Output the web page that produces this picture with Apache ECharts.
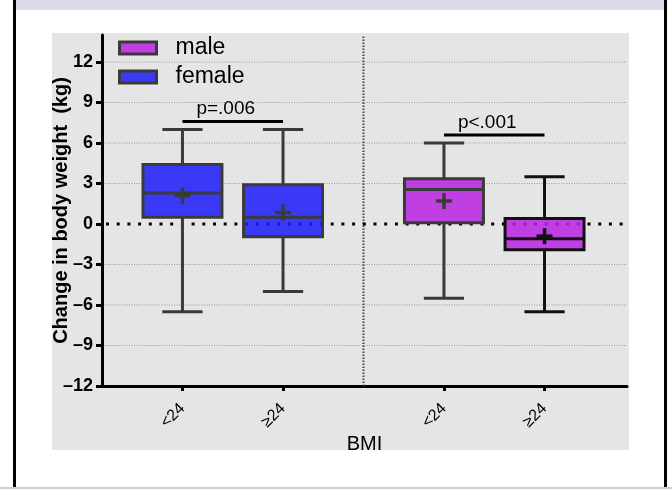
<!DOCTYPE html>
<html><head><meta charset="utf-8">
<script src="https://cdn.jsdelivr.net/npm/echarts@6/dist/echarts.min.js"></script>
<style>
html,body{margin:0;padding:0;background:#fff;}
#wrap{position:relative;width:672px;height:489px;overflow:hidden;}
.deco{position:absolute;}
#chart{position:absolute;left:0;top:0;width:672px;height:489px;}
</style></head><body>
<div id="wrap">
<div class="deco" style="left:15px;top:0;width:650px;height:10px;background:#dcdae6"></div>
<div class="deco" style="left:13px;top:0;width:3px;height:489px;background:#000"></div>
<div class="deco" style="left:664px;top:0;width:3px;height:489px;background:#000"></div>
<div class="deco" style="left:0;top:487px;width:672px;height:2px;background:#cfcfcf"></div>
<div class="deco" style="left:52px;top:33px;width:577px;height:417px;background:#e5e5e5"></div>
<div id="chart"></div>
</div>
<script>
// ---- data ----
const categories = ['<24', '\u226524', '<24', '\u226524'];
const xSlots = [0.8, 1.8, 3.4, 4.4];          // slots of the categories on the x scale
const groupDivider = [2.6];
// [slot, min, Q1, median, Q3, max, mean]
const femaleBoxes = [
  [0.8, -6.5, 0.5, 2.3, 4.4, 7.0, 2.1],
  [1.8, -5.0, -0.95, 0.5, 2.9, 7.0, 0.85]
];
const maleBoxes = [
  [3.4, -5.5, 0.1, 2.55, 3.35, 6.0, 1.7],
  [4.4, -6.5, -1.9, -1.1, 0.4, 3.5, -0.9]
];
const yTicks = [-12, -9, -6, -3, 0, 3, 6, 9, 12];
const gridValues = [12, 9, 6, 3, -3, -6, -9];
const zeroLine = [0];
const brackets = [[0.8, 1.8, 7.6], [3.4, 4.4, 6.6]];
const pLabels = ['p=.006', 'p<.001'];

const FONT = 'Liberation Sans, Arial, sans-serif';
const X_MIN = 0, X_MAX = 5.22, Y_MIN = -12, Y_MAX = 14;
const BOX_W = 0.785, CAP_W = 0.4;
const STROKE = '#3a3a3a';

function boxRender(fill, strokes) {
  return function (params, api) {
    const x = api.value(0);
    const lo = api.coord([x, api.value(1)]);
    const q1 = api.coord([x, api.value(2)]);
    const md = api.coord([x, api.value(3)]);
    const q3 = api.coord([x, api.value(4)]);
    const hi = api.coord([x, api.value(5)]);
    const mn = api.coord([x, api.value(6)]);
    const bw = api.size([BOX_W, 0])[0];
    const cw = api.size([CAP_W, 0])[0];
    const cx = lo[0];
    const sc = strokes[params.dataIndex] || STROKE;
    const ls = {stroke: sc, lineWidth: 3};
    return {
      type: 'group',
      children: [
        {type: 'line', shape: {x1: cx, y1: hi[1], x2: cx, y2: q3[1]}, style: ls},
        {type: 'line', shape: {x1: cx, y1: q1[1], x2: cx, y2: lo[1]}, style: ls},
        {type: 'line', shape: {x1: cx - cw / 2, y1: hi[1], x2: cx + cw / 2, y2: hi[1]}, style: ls},
        {type: 'line', shape: {x1: cx - cw / 2, y1: lo[1], x2: cx + cw / 2, y2: lo[1]}, style: ls},
        {type: 'rect', shape: {x: cx - bw / 2, y: q3[1], width: bw, height: q1[1] - q3[1]},
          style: {fill: fill, stroke: sc, lineWidth: 3, opacity: 1}},
        {type: 'line', shape: {x1: cx - bw / 2, y1: md[1], x2: cx + bw / 2, y2: md[1]}, style: ls},
        {type: 'line', shape: {x1: cx - 8, y1: mn[1], x2: cx + 8, y2: mn[1]}, style: {stroke: sc, lineWidth: 3.5}},
        {type: 'line', shape: {x1: cx, y1: mn[1] - 8, x2: cx, y2: mn[1] + 8}, style: {stroke: sc, lineWidth: 3.5}}
      ]
    };
  };
}

const chart = echarts.init(document.getElementById('chart'), null, {renderer: 'canvas'});
chart.setOption({
  backgroundColor: 'transparent',
  animation: false,
  grid: {left: 102, right: 45, top: 35, bottom: 103},
  legend: {
    data: ['male', 'female'], orient: 'vertical', left: 118, top: 36, padding: 0,
    itemWidth: 37, itemHeight: 12, itemGap: 5, icon: 'rect',
    itemStyle: {borderColor: STROKE, borderWidth: 3},
    textStyle: {fontSize: 23, lineHeight: 24, color: '#000', fontFamily: FONT, padding: [0, 0, 0, 14]}
  },
  xAxis: {
    type: 'value', min: X_MIN, max: X_MAX,
    name: 'BMI', nameLocation: 'middle', nameGap: 48, nameMoveOverlap: false,
    nameTextStyle: {fontSize: 20, color: '#000', fontFamily: FONT},
    axisLine: {show: true, onZero: false, lineStyle: {color: '#000', width: 3}},
    axisTick: {show: true, customValues: xSlots, length: 5, lineStyle: {color: '#000', width: 3}},
    axisLabel: {
      customValues: xSlots, rotate: 45, margin: 20, fontSize: 16, color: '#000', fontFamily: FONT,
      formatter: function (v) { const i = xSlots.indexOf(v); return i >= 0 ? categories[i] : ''; }
    },
    splitLine: {show: false}
  },
  yAxis: {
    type: 'value', min: Y_MIN, max: Y_MAX,
    name: 'Change in body weight  (kg)', nameLocation: 'middle', nameGap: 31, nameMoveOverlap: false,
    nameTextStyle: {fontSize: 20, fontWeight: 'bold', color: '#000', fontFamily: FONT},
    axisLine: {show: true, onZero: false, lineStyle: {color: '#000', width: 3}},
    axisTick: {show: true, customValues: yTicks, length: 6, lineStyle: {color: '#000', width: 3}},
    axisLabel: {
      customValues: yTicks, margin: 9, fontSize: 18, fontWeight: 'bold', color: '#000', fontFamily: FONT,
      formatter: function (v) { return v < 0 ? '\u2013' + Math.abs(v) : String(v); }
    },
    splitLine: {show: false}
  },
  series: [
    {
      type: 'custom', name: 'grid', z: 1, silent: true,
      data: gridValues.map(v => [X_MIN, v]),
      renderItem: function (params, api) {
        const a = api.coord([X_MIN, api.value(1)]);
        const b = api.coord([X_MAX, api.value(1)]);
        return {type: 'line', shape: {x1: a[0] + 2, y1: a[1], x2: b[0], y2: b[1]},
          style: {stroke: '#9a9a9a', lineWidth: 1, lineDash: [1, 1.5]}};
      }
    },
    {
      type: 'custom', name: 'divider', z: 1, silent: true,
      data: groupDivider.map(v => [v, Y_MIN]),
      renderItem: function (params, api) {
        const a = api.coord([api.value(0), Y_MIN]);
        const b = api.coord([api.value(0), Y_MAX]);
        return {type: 'line', shape: {x1: a[0], y1: a[1], x2: b[0], y2: b[1]},
          style: {stroke: '#444', lineWidth: 2, lineDash: [1.5, 1.5]}};
      }
    },
    {
      type: 'custom', name: 'zero', z: 2, silent: true,
      data: zeroLine.map(v => [X_MIN, v]),
      renderItem: function (params, api) {
        const a = api.coord([X_MIN, api.value(1)]);
        const b = api.coord([X_MAX, api.value(1)]);
        return {type: 'line', shape: {x1: a[0] + 4, y1: a[1], x2: b[0], y2: b[1]},
          style: {stroke: '#000', lineWidth: 3, lineDash: [3, 7.7]}};
      }
    },
    {
      type: 'custom', name: 'female', z: 3,
      itemStyle: {color: '#3b3bf5', borderColor: STROKE, borderWidth: 3},
      data: femaleBoxes, renderItem: boxRender('rgba(29,29,248,0.86)', [STROKE, STROKE])
    },
    {
      type: 'custom', name: 'male', z: 3,
      itemStyle: {color: '#c040e2', borderColor: STROKE, borderWidth: 3},
      data: maleBoxes, renderItem: boxRender('rgba(185,35,225,0.86)', [STROKE, '#111'])
    },
    {
      type: 'custom', name: 'brackets', z: 4, silent: true,
      data: brackets,
      renderItem: function (params, api) {
        const a = api.coord([api.value(0), api.value(2)]);
        const b = api.coord([api.value(1), api.value(2)]);
        return {
          type: 'group', children: [
            {type: 'line', shape: {x1: a[0], y1: a[1], x2: b[0], y2: b[1]}, style: {stroke: '#000', lineWidth: 3}},
            {type: 'text', style: {text: pLabels[params.dataIndex], x: (a[0] + b[0]) / 2 - 7, y: a[1] - 3,
              align: 'center', verticalAlign: 'bottom', fontSize: 19, fontFamily: FONT, fill: '#000'}}
          ]
        };
      }
    }
  ]
});
</script>
</body></html>
